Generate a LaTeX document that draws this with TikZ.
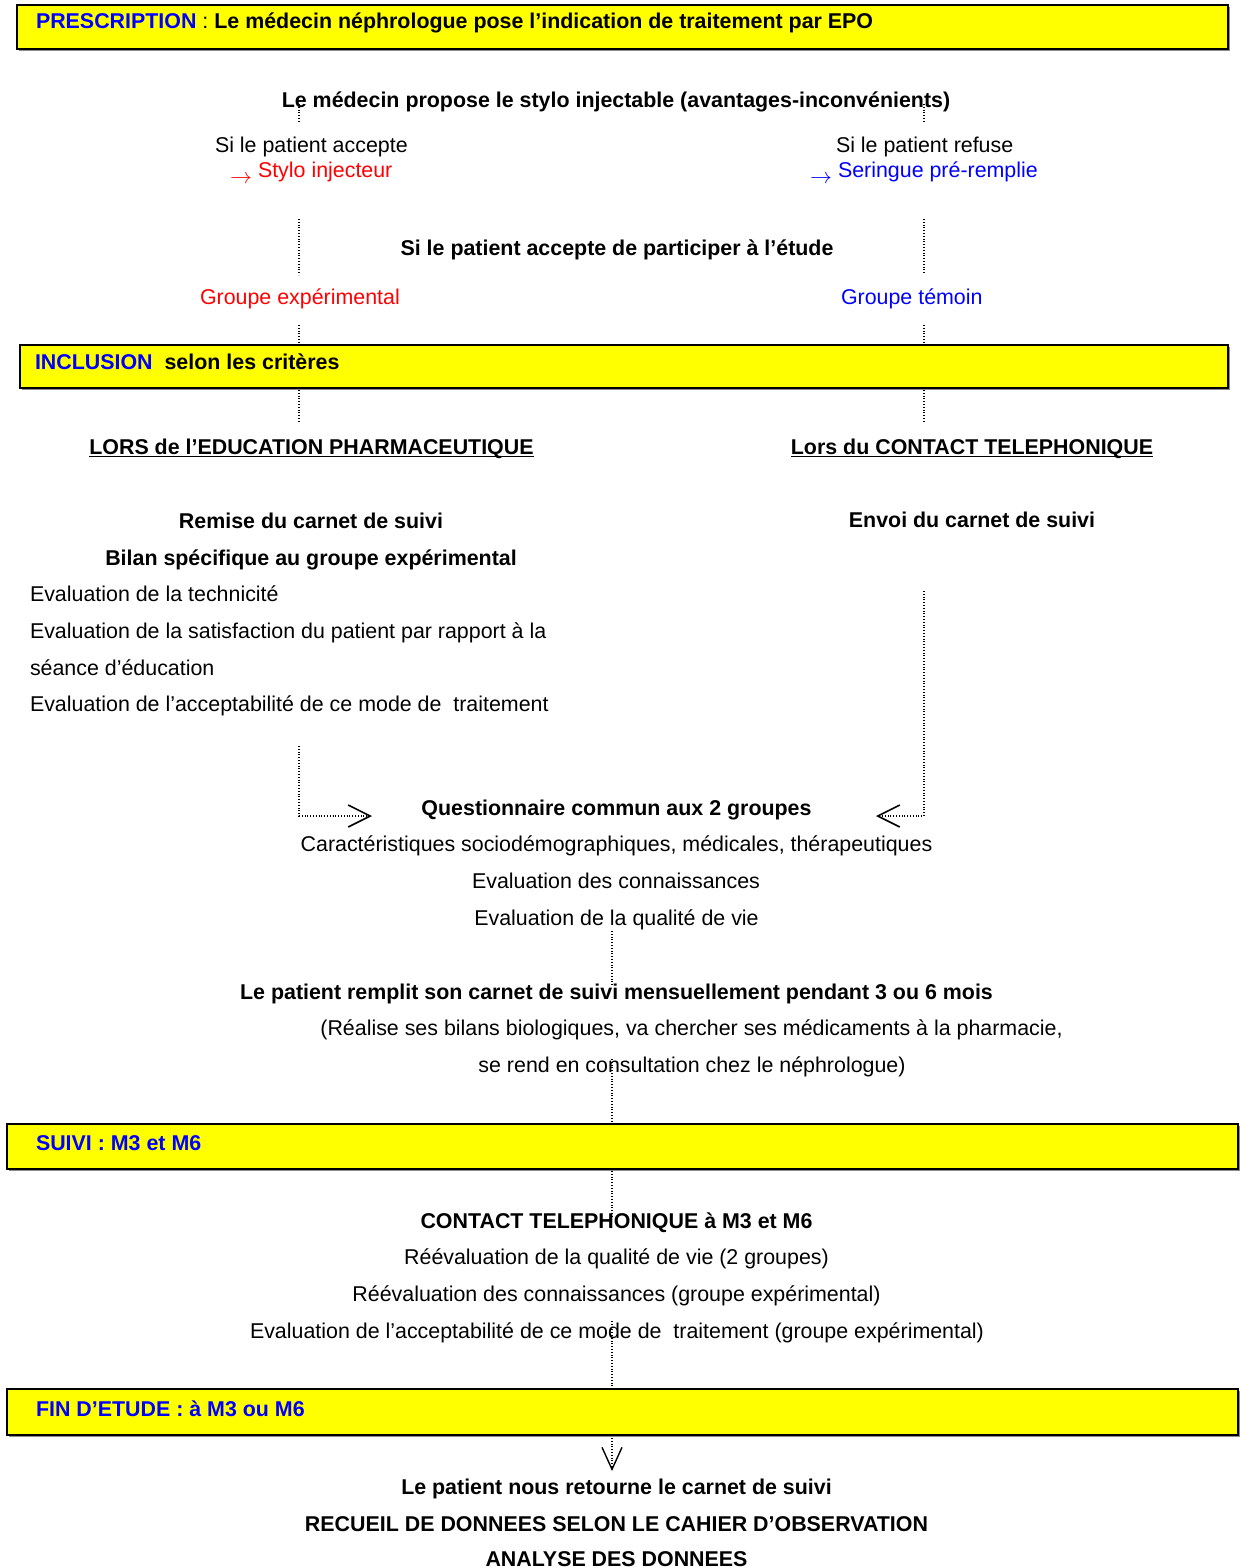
\documentclass[tikz,border=0pt]{standalone}
\usepackage{fontspec}
\setmainfont{Liberation Sans}
\usetikzlibrary{arrows.meta}
\definecolor{tblue}{RGB}{0,0,255}
\definecolor{tred}{RGB}{255,0,0}
\definecolor{ybox}{RGB}{255,255,0}
\begin{document}
\begin{tikzpicture}[x=0.5pt,y=-0.5pt,
  every node/.style={inner sep=0pt, outer sep=0pt, yshift=-0.5pt, font=\fontsize{10.7}{13}\selectfont},
  txt/.style={anchor=base west},
  ctr/.style={anchor=base},
  bld/.style={font=\fontsize{10.7}{13}\selectfont\bfseries},
  band/.style={draw=black, line width=1.2pt, fill=ybox},
  shade/.style={fill=black!45},
  dots/.style={line width=0.55pt, dash pattern=on 0.5pt off 0.9pt},
  chev/.style={-{Straight Barb[length=11pt,width=11pt,line width=0.8pt]}},
  chevd/.style={-{Straight Barb[length=11pt,width=10pt,line width=0.7pt]}}
]
\useasboundingbox (0,0) rectangle (1240,1568);

% ---- bands ----
\fill[shade] (19,7) rectangle (1230,51);
\draw[band] (17,5) rectangle (1228,49);
\fill[shade] (22,347) rectangle (1230,390);
\draw[band] (20,345) rectangle (1228,388);
\fill[shade] (9,1126) rectangle (1240,1171);
\draw[band] (7,1124) rectangle (1238,1169);
\fill[shade] (9,1391) rectangle (1240,1437);
\draw[band] (7,1389) rectangle (1238,1435);

\node[txt] (presc) at (36,28) {\textcolor{tblue}{\bfseries PRESCRIPTION} : \textbf{Le médecin néphrologue pose l’indication de traitement par EPO}};
\node[txt] (incl) at (35,368) {\textcolor{tblue}{\bfseries INCLUSION}\ \ \textbf{selon les critères}};
\node[txt, bld, text=tblue] (suivi) at (36,1149) {SUIVI : M3 et M6};
\node[txt, bld, text=tblue] (fin) at (36,1415) {FIN D’ETUDE : à M3 ou M6};

% ---- top part ----
\node[ctr, bld] (propose) at (616,107) {Le médecin propose le stylo injectable (avantages-inconvénients)};
\node[txt] (acc) at (215,152) {Si le patient accepte};
\node[txt] (arrL) at (230,183) {\color{tred}$\rightarrow$};
\node[txt, text=tred] (stylo) at (258,176) {Stylo injecteur};
\node[txt] (ref) at (836,152) {Si le patient refuse};
\node[txt] (arrR) at (810,183) {\color{tblue}$\rightarrow$};
\node[txt, text=tblue] (ser) at (838,176) {Seringue pré-remplie};
\node[ctr, bld] (part) at (617,254) {Si le patient accepte de participer à l’étude};
\node[txt, text=tred] (gexp) at (200,303) {Groupe expérimental};
\node[txt, text=tblue] (gtem) at (841,303) {Groupe témoin};

% ---- columns ----
\node[ctr, bld] (educ) at (311.5,453) {\underline{\smash{LORS de l’EDUCATION PHARMACEUTIQUE}}};
\node[ctr, bld] (tel) at (972,453) {\underline{\smash{Lors du CONTACT TELEPHONIQUE}}};
\node[ctr, bld] (remise) at (311,527) {Remise du carnet de suivi};
\node[ctr, bld] (envoi) at (972,526) {Envoi du carnet de suivi};
\node[ctr, bld] (bilan) at (311,564) {Bilan spécifique au groupe expérimental};
\node[txt] (ev1) at (30,600) {Evaluation de la technicité};
\node[txt] (ev2) at (30,637) {Evaluation de la satisfaction du patient par rapport à la};
\node[txt] (ev3) at (30,674) {séance d’éducation};
\node[txt] (ev4) at (30,710) {Evaluation de l’acceptabilité de ce mode de\ \ traitement};

% ---- common part ----
\node[ctr, bld] (quest) at (616.5,814) {Questionnaire commun aux 2 groupes};
\node[ctr] (q1) at (616.5,850) {Caractéristiques sociodémographiques, médicales, thérapeutiques};
\node[ctr] (q2) at (616,887) {Evaluation des connaissances};
\node[ctr] (q3) at (616.5,924) {Evaluation de la qualité de vie};
\node[ctr, bld] (rempl) at (616.5,998) {Le patient remplit son carnet de suivi mensuellement pendant 3 ou 6 mois};
\node[ctr] (r1) at (691.5,1034) {(Réalise ses bilans biologiques, va chercher ses médicaments à la pharmacie,};
\node[ctr] (r2) at (692,1071) {se rend en consultation chez le néphrologue)};

\node[ctr, bld] (ct) at (616.5,1227) {CONTACT TELEPHONIQUE à M3 et M6};
\node[ctr] (c1) at (616.5,1263) {Réévaluation de la qualité de vie (2 groupes)};
\node[ctr] (c2) at (616.5,1300) {Réévaluation des connaissances (groupe expérimental)};
\node[ctr] (c3) at (617,1337) {Evaluation de l’acceptabilité de ce mode de\ \ traitement (groupe expérimental)};

\node[ctr, bld] (ret) at (616.5,1493) {Le patient nous retourne le carnet de suivi};
\node[ctr, bld] (recu) at (616.5,1530) {RECUEIL DE DONNEES SELON LE CAHIER D’OBSERVATION};
\node[ctr, bld] (ana) at (616.5,1565) {ANALYSE DES DONNEES};

% ---- dotted connectors ----
\coordinate (a1) at (299,103); \coordinate (a2) at (299,121);
\coordinate (b1) at (924,103); \coordinate (b2) at (924,122);
\coordinate (a3) at (299,218); \coordinate (a4) at (299,274);
\coordinate (b3) at (924,218); \coordinate (b4) at (924,272);
\coordinate (a5) at (299,324); \coordinate (a6) at (299,345);
\coordinate (b5) at (924,324); \coordinate (b6) at (924,345);
\coordinate (a7) at (299,389); \coordinate (a8) at (299,422);
\coordinate (b7) at (924,389); \coordinate (b8) at (924,422);
\coordinate (a9) at (299,745); \coordinate (a10) at (299,815); \coordinate (a11) at (372,815);
\coordinate (b9) at (924,590); \coordinate (b10) at (924,815); \coordinate (b11) at (876,815);
\coordinate (m1) at (612,930); \coordinate (m2) at (612,985);
\coordinate (m3) at (612,1058); \coordinate (m4) at (612,1124);
\coordinate (m5) at (612,1170); \coordinate (m6) at (612,1215);
\coordinate (m7) at (612,1320); \coordinate (m8) at (612,1385);
\coordinate (m9) at (612,1437); \coordinate (m10) at (612,1470);

\draw[dots] (a1) -- (a2);
\draw[dots] (b1) -- (b2);
\draw[dots] (a3) -- (a4);
\draw[dots] (b3) -- (b4);
\draw[dots] (a5) -- (a6);
\draw[dots] (b5) -- (b6);
\draw[dots] (a7) -- (a8);
\draw[dots] (b7) -- (b8);
\draw[dots, chev] (a9) -- (a10) -- (a11);
\draw[dots, chev] (b9) -- (b10) -- (b11);
\draw[dots] (m1) -- (m2);
\draw[dots] (m3) -- (m4);
\draw[dots] (m5) -- (m6);
\draw[dots] (m7) -- (m8);
\draw[dots, chevd] (m9) -- (m10);
\end{tikzpicture}
\end{document}
